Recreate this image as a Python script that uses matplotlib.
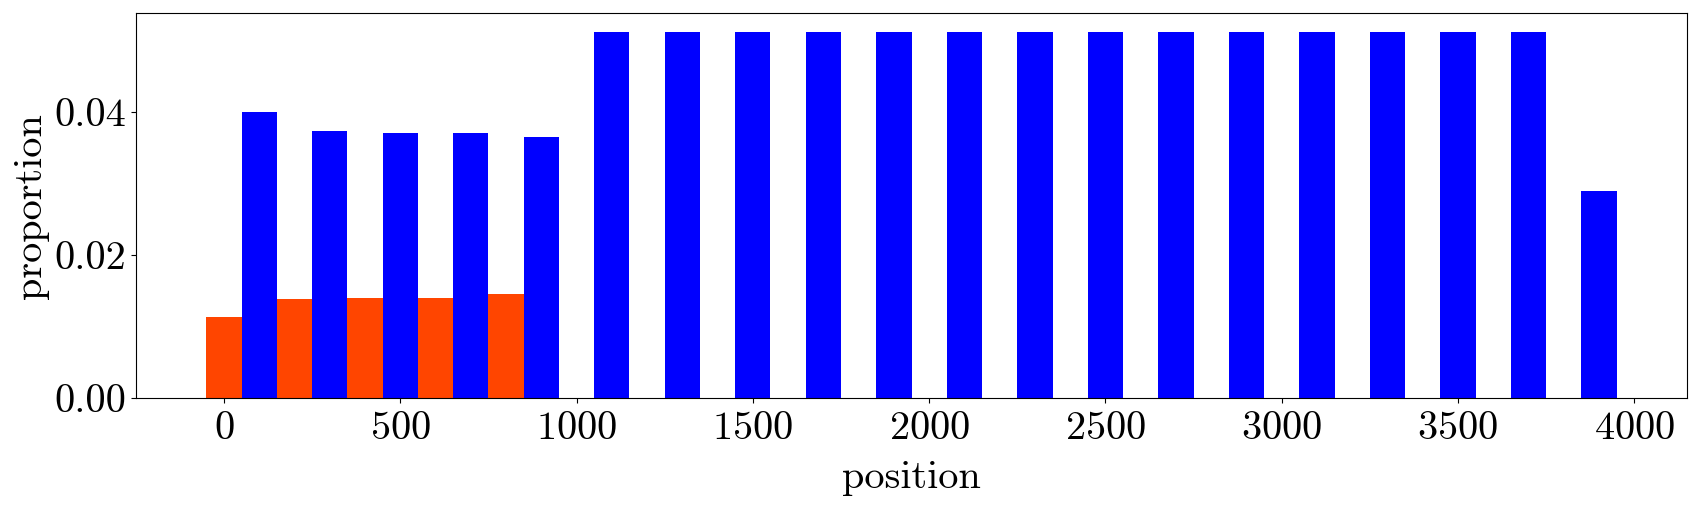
import matplotlib
matplotlib.use("Agg")
import matplotlib.pyplot as plt

plt.rcParams['font.family'] = 'serif'
plt.rcParams['font.serif'] = ['cmr10']
plt.rcParams['mathtext.fontset'] = 'cm'
plt.rcParams['axes.formatter.use_mathtext'] = True

orange_pos = [0, 200, 400, 600, 800]
orange_vals = [0.0113, 0.0138, 0.0140, 0.0140, 0.0146]
blue_pos = [100, 300, 500, 700, 900, 1100, 1300, 1500, 1700, 1900, 2100, 2300,
            2500, 2700, 2900, 3100, 3300, 3500, 3700, 3900]
blue_vals = [0.0399, 0.0373, 0.0370, 0.0370, 0.0365,
             0.0512, 0.0512, 0.0512, 0.0512, 0.0512, 0.0512, 0.0512,
             0.0512, 0.0512, 0.0512, 0.0512, 0.0512, 0.0512, 0.0512, 0.0289]
xticks = [0, 500, 1000, 1500, 2000, 2500, 3000, 3500, 4000]
yticks = [0.0, 0.02, 0.04]
ytick_labels = ['0.00', '0.02', '0.04']
bin_width = 100

fig = plt.figure(figsize=(16.99, 5.07), dpi=100)
ax = fig.add_axes([0.080, 0.2144, 0.913, 0.7596])
ax.bar(orange_pos, orange_vals, width=bin_width, color='#FF4500')
ax.bar(blue_pos, blue_vals, width=bin_width, color='#0000FF')
ax.set_xticks(xticks)
ax.set_yticks(yticks)
ax.set_yticklabels(ytick_labels)
ax.tick_params(labelsize=29)
ax.tick_params(axis='x', pad=5.5)
ax.set_xlabel('position', fontsize=29, labelpad=9.5)
ax.set_ylabel('proportion', fontsize=29)
fig.savefig('out.png', dpi=100)
